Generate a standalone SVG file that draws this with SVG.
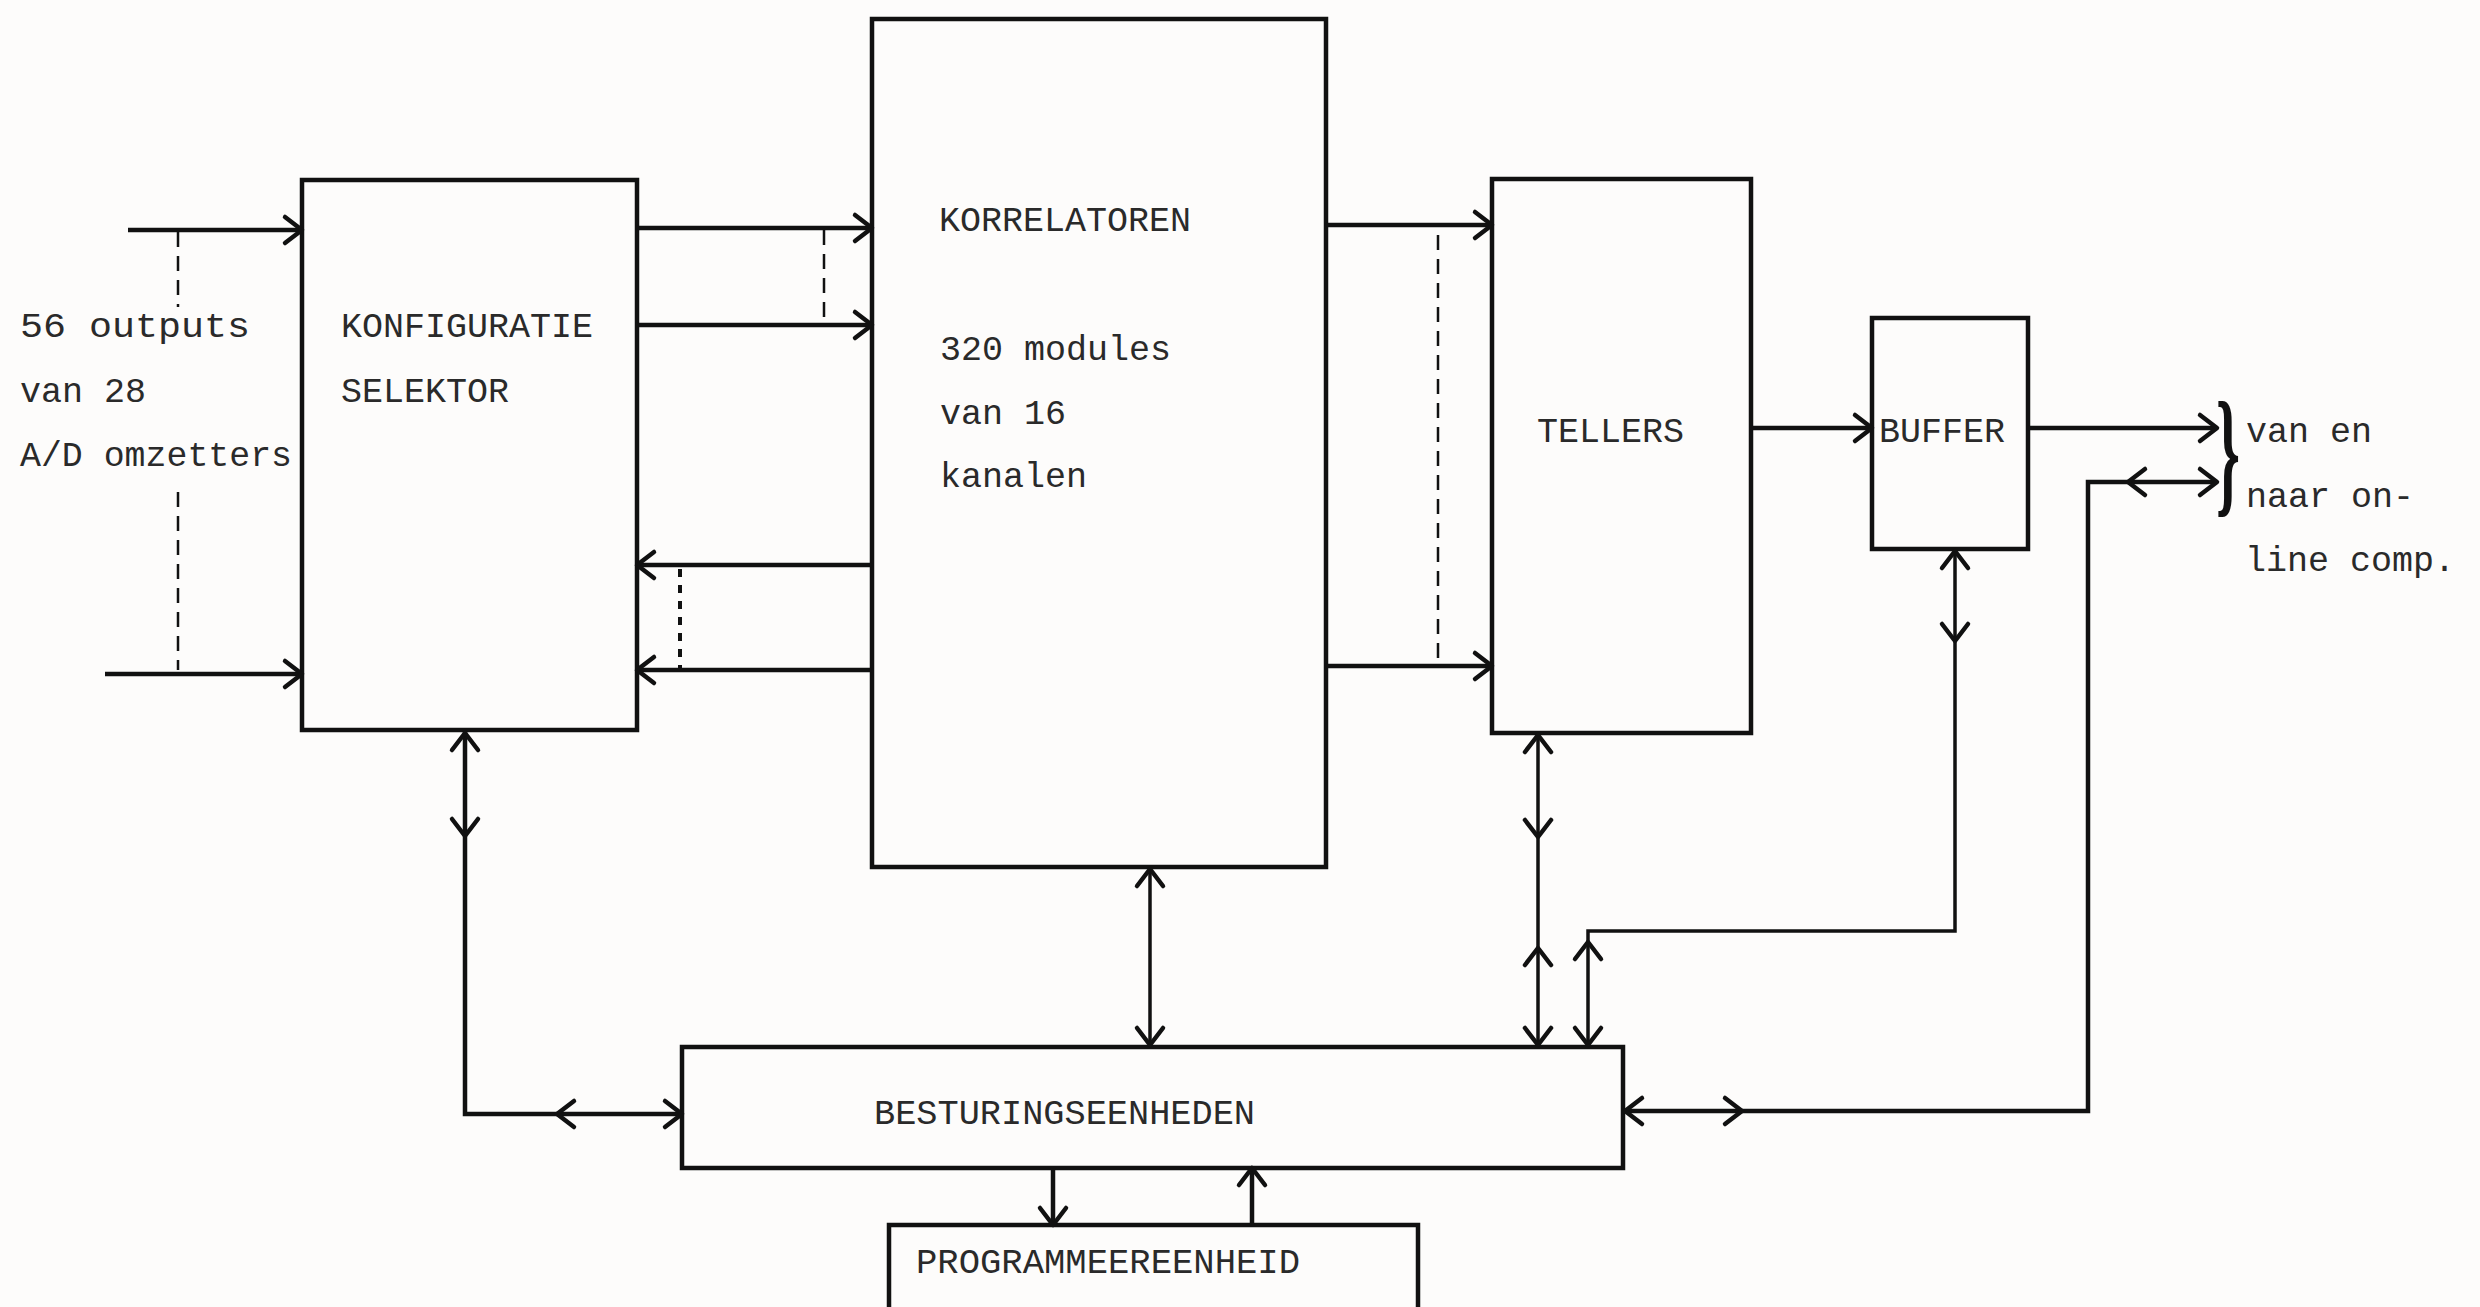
<svg xmlns="http://www.w3.org/2000/svg" xmlns:xlink="http://www.w3.org/1999/xlink" width="2480" height="1307" viewBox="0 0 2480 1307">
<style>
.box{fill:none;stroke:#111;stroke-width:4.5}
.ln{fill:none;stroke:#111;stroke-width:4.5;stroke-linejoin:miter}
.thin{fill:none;stroke:#111;stroke-width:3.5}
.dash{fill:none;stroke:#111;stroke-width:2.5;stroke-dasharray:15 9}
.dot{fill:none;stroke:#111;stroke-width:4;stroke-dasharray:8 8}
.ah{fill:none;stroke:#111;stroke-width:4.5;stroke-linecap:round;stroke-linejoin:round}
text{font-family:"Liberation Mono","DejaVu Sans Mono",monospace;font-size:35px;fill:#2a2a2a}
</style>
<defs>
<path id="ah" class="ah" d="M-17,-13 L0,0 L-17,13"/>
</defs>
<rect width="2480" height="1307" fill="#fdfcfb"/>

<g id="konfiguratie">
<rect class="box" x="302" y="180" width="335" height="550"/>
<text x="341" y="337" textLength="252" lengthAdjust="spacingAndGlyphs">KONFIGURATIE</text>
<text x="341" y="402" textLength="168" lengthAdjust="spacingAndGlyphs">SELEKTOR</text>
</g>

<g id="korrelatoren">
<rect class="box" x="872" y="19" width="454" height="848"/>
<text x="939" y="231" textLength="252" lengthAdjust="spacingAndGlyphs">KORRELATOREN</text>
<text x="940" y="360">320 modules</text>
<text x="940" y="424">van 16</text>
<text x="940" y="487">kanalen</text>
</g>

<g id="tellers">
<rect class="box" x="1492" y="179" width="259" height="554"/>
<text x="1537" y="442" textLength="147" lengthAdjust="spacingAndGlyphs">TELLERS</text>
</g>

<g id="buffer">
<rect class="box" x="1872" y="318" width="156" height="231"/>
<text x="1879" y="442" textLength="126" lengthAdjust="spacingAndGlyphs">BUFFER</text>
</g>

<g id="besturingseenheden">
<rect class="box" x="682" y="1047" width="941" height="121"/>
<text x="874" y="1124" textLength="381" lengthAdjust="spacingAndGlyphs">BESTURINGSEENHEDEN</text>
</g>

<g id="programmeereenheid">
<rect class="box" x="889" y="1225" width="529" height="100"/>
<text x="916" y="1273" textLength="384" lengthAdjust="spacingAndGlyphs">PROGRAMMEEREENHEID</text>
</g>

<g id="labels">
<text x="20" y="337" textLength="230" lengthAdjust="spacingAndGlyphs">56 outputs</text>
<text x="20" y="402">van 28</text>
<text x="20" y="466" textLength="272" lengthAdjust="spacingAndGlyphs">A/D omzetters</text>
<text x="2246" y="442">van en</text>
<text x="2246" y="507">naar on-</text>
<text x="2245" y="571">line comp.</text>
<text transform="translate(2216,498) scale(0.5,1.15)" x="0" y="0" style="font-family:'Liberation Serif',serif;font-size:122px;font-weight:bold;fill:#111">}</text>
</g>

<g id="connectors">
<!-- inputs -->
<line class="ln" x1="128" y1="230" x2="300" y2="230"/>
<use xlink:href="#ah" transform="translate(302,230)"/>
<line class="ln" x1="105" y1="674" x2="300" y2="674"/>
<use xlink:href="#ah" transform="translate(302,674)"/>
<line class="dash" x1="178" y1="232" x2="178" y2="307"/>
<line class="dash" x1="178" y1="492" x2="178" y2="670"/>

<!-- KONF to KORR -->
<line class="ln" x1="637" y1="228" x2="870" y2="228"/>
<use xlink:href="#ah" transform="translate(872,228)"/>
<line class="ln" x1="637" y1="325" x2="870" y2="325"/>
<use xlink:href="#ah" transform="translate(872,325)"/>
<line class="dash" x1="824" y1="230" x2="824" y2="323"/>

<!-- KORR to KONF -->
<line class="ln" x1="872" y1="565" x2="639" y2="565"/>
<use xlink:href="#ah" transform="translate(637,565) rotate(180)"/>
<line class="ln" x1="872" y1="670" x2="639" y2="670"/>
<use xlink:href="#ah" transform="translate(637,670) rotate(180)"/>
<line class="dot" x1="680" y1="569" x2="680" y2="668"/>

<!-- KORR to TELLERS -->
<line class="ln" x1="1326" y1="225" x2="1490" y2="225"/>
<use xlink:href="#ah" transform="translate(1492,225)"/>
<line class="ln" x1="1326" y1="666" x2="1490" y2="666"/>
<use xlink:href="#ah" transform="translate(1492,666)"/>
<line class="dash" x1="1438" y1="235" x2="1438" y2="660"/>

<!-- TELLERS to BUFFER -->
<line class="ln" x1="1751" y1="428" x2="1870" y2="428"/>
<use xlink:href="#ah" transform="translate(1872,428)"/>

<!-- BUFFER out -->
<line class="ln" x1="2028" y1="428" x2="2215" y2="428"/>
<use xlink:href="#ah" transform="translate(2217,428)"/>

<!-- online comp to BESTURING -->
<path class="ln" d="M1623,1111 H2088 V482 H2215"/>
<use xlink:href="#ah" transform="translate(2217,482)"/>
<use xlink:href="#ah" transform="translate(2128,482) rotate(180)"/>
<use xlink:href="#ah" transform="translate(1625,1111) rotate(180)"/>
<use xlink:href="#ah" transform="translate(1742,1111)"/>

<!-- BUFFER to BESTURING -->
<path class="thin" d="M1955,549 V931 H1588 V1047"/>
<use xlink:href="#ah" transform="translate(1955,551) rotate(-90)"/>
<use xlink:href="#ah" transform="translate(1955,641) rotate(90)"/>
<use xlink:href="#ah" transform="translate(1588,942) rotate(-90)"/>
<use xlink:href="#ah" transform="translate(1588,1045) rotate(90)"/>

<!-- TELLERS to BESTURING -->
<line class="thin" x1="1538" y1="733" x2="1538" y2="1047"/>
<use xlink:href="#ah" transform="translate(1538,735) rotate(-90)"/>
<use xlink:href="#ah" transform="translate(1538,837) rotate(90)"/>
<use xlink:href="#ah" transform="translate(1538,948) rotate(-90)"/>
<use xlink:href="#ah" transform="translate(1538,1045) rotate(90)"/>

<!-- KORR to BESTURING -->
<line class="thin" x1="1150" y1="867" x2="1150" y2="1047"/>
<use xlink:href="#ah" transform="translate(1150,869) rotate(-90)"/>
<use xlink:href="#ah" transform="translate(1150,1045) rotate(90)"/>

<!-- KONF to BESTURING -->
<path class="ln" d="M465,731 V1114 H680"/>
<use xlink:href="#ah" transform="translate(465,733) rotate(-90)"/>
<use xlink:href="#ah" transform="translate(465,836) rotate(90)"/>
<use xlink:href="#ah" transform="translate(557,1114) rotate(180)"/>
<use xlink:href="#ah" transform="translate(682,1114)"/>

<!-- BESTURING to PROG -->
<line class="ln" x1="1053" y1="1168" x2="1053" y2="1223"/>
<use xlink:href="#ah" transform="translate(1053,1225) rotate(90)"/>
<line class="ln" x1="1252" y1="1225" x2="1252" y2="1170"/>
<use xlink:href="#ah" transform="translate(1252,1168) rotate(-90)"/>
</g>
</svg>
